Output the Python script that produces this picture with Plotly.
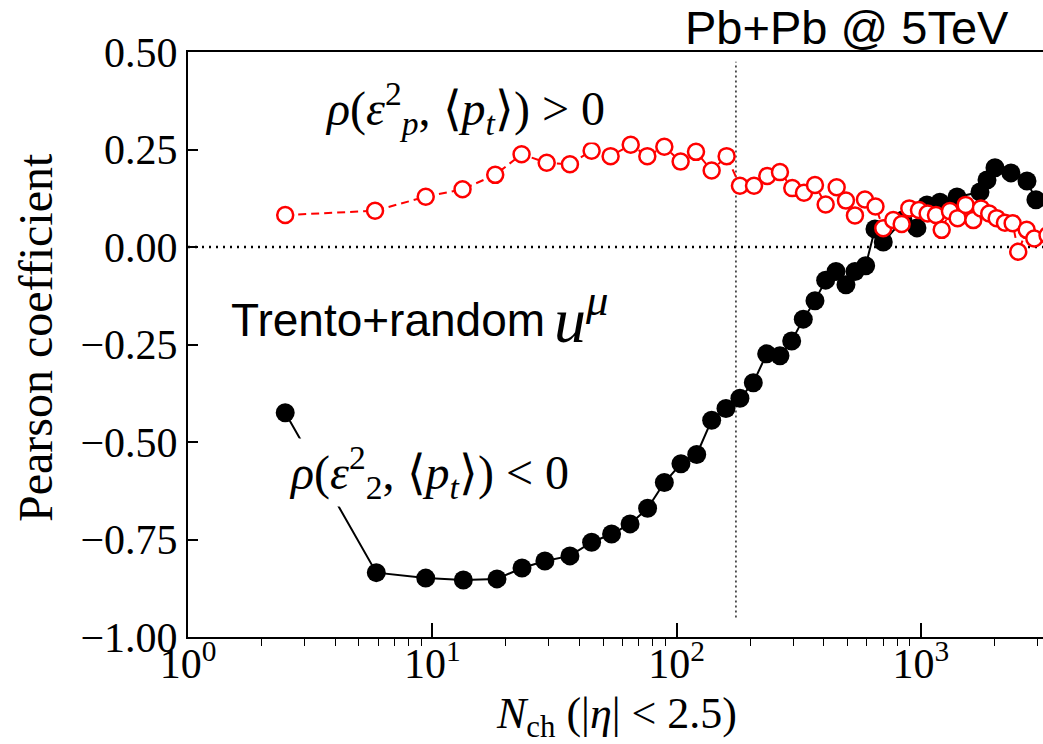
import math
import plotly.graph_objects as go

# ---------------- data ----------------
nch_black = [2.5, 5.9, 9.4, 13.4, 18.4, 23.3, 28.9, 36.6, 44.9, 54.2, 64.5, 76.1, 89.1,
             104.2, 120.9, 139.2, 159.3, 181.7, 206.1, 233.8, 265.0, 295.9, 330.1, 368.6,
             407.7, 449.3, 493.6, 537.3, 594.3, 648.8, 701.6, 844.9, 963.9, 1059, 1197,
             1406, 1746, 1865, 2011, 2338, 2719, 2958]
rho_black = [-0.425, -0.835, -0.849, -0.854, -0.851, -0.823, -0.805, -0.792, -0.757, -0.736,
             -0.710, -0.670, -0.604, -0.556, -0.532, -0.444, -0.414, -0.388, -0.348, -0.274,
             -0.279, -0.241, -0.185, -0.138, -0.085, -0.063, -0.097, -0.063, -0.048, 0.046,
             0.013, 0.069, 0.049, 0.108, 0.115, 0.128, 0.141, 0.172, 0.203, 0.190, 0.169,
             0.121]

nch_red = [2.5, 5.83, 9.40, 13.3, 18.1, 23.2, 29.4, 36.6, 44.9, 53.7, 64.9, 75.9, 89.1,
           103.9, 120.1, 139.2, 160.3, 181.7, 207.5, 235.1, 265.0, 297.6, 332.3, 368.6,
           407.7, 452.2, 493.6, 537.3, 590.4, 652, 701.6, 770.9, 834.6, 896.8, 982.2, 1066,
           1153, 1217, 1315, 1414, 1525, 1639, 1762, 1905, 2043, 2209, 2375, 2504, 2711,
           2913, 3300]
rho_red = [0.082, 0.093, 0.129, 0.148, 0.185, 0.238, 0.216, 0.212, 0.247, 0.233, 0.262,
           0.233, 0.257, 0.219, 0.244, 0.196, 0.233, 0.157, 0.157, 0.182, 0.192, 0.151,
           0.139, 0.159, 0.109, 0.153, 0.119, 0.081, 0.122, 0.104, 0.048, 0.069, 0.059,
           0.099, 0.095, 0.086, 0.082, 0.044, 0.092, 0.074, 0.108, 0.069, 0.099, 0.086,
           0.074, 0.062, 0.061, -0.012, 0.044, 0.022, 0.030]

x_tick_vals = [1, 10, 100, 1000]
x_tick_text = ["10<sup>0</sup>", "10<sup>1</sup>", "10<sup>2</sup>", "10<sup>3</sup>"]
x_minor_vals = [m * d for d in (1, 10, 100, 1000) for m in range(2, 10)]
y_tick_vals = [-1.0, -0.75, -0.5, -0.25, 0.0, 0.25, 0.5]
x_range = [1, 3162]
y_range = [-1.0, 0.5]
vline_x = 175
vline_y = [-0.95, 0.475]

SERIF = "Liberation Serif"
SANS = "Liberation Sans"

fig = go.Figure()

# reference lines
fig.add_trace(go.Scatter(x=x_range, y=[0, 0], mode="lines",
                         line=dict(color="black", width=2.5, dash="2px,5px"),
                         hoverinfo="skip", showlegend=False))
fig.add_trace(go.Scatter(x=[vline_x, vline_x], y=vline_y, mode="lines",
                         line=dict(color="black", width=1.3, dash="2px,3px"),
                         hoverinfo="skip", showlegend=False))

# black series
fig.add_trace(go.Scatter(x=nch_black, y=rho_black, mode="lines+markers",
                         line=dict(color="black", width=2),
                         marker=dict(color="black", size=19, line=dict(width=0)),
                         showlegend=False))
# red series
fig.add_trace(go.Scatter(x=nch_red, y=rho_red, mode="lines+markers",
                         line=dict(color="red", width=2, dash="8px,5px"),
                         marker=dict(color="white", size=16, line=dict(color="red", width=2.5)),
                         showlegend=False))

# invisible trace carrying the minor-tick axis
fig.add_trace(go.Scatter(x=x_range, y=[None, None], xaxis="x2", mode="lines",
                         hoverinfo="skip", showlegend=False))

L, R, T, B = 188, 0, 52, 107
W, H = 1043, 744
pw, ph = W - L - R, H - T - B


def px(xp):
    return (xp - L) / pw


def py(yp):
    return (H - B - yp) / ph


annotations = [
    dict(text="Pb+Pb @ 5TeV", x=px(847), y=py(28), font=dict(family=SANS, size=47, color="black")),
    dict(text="Trento+random", x=px(388), y=py(320), font=dict(family=SANS, size=46, color="black")),
    dict(text="<i>u</i><sup><i>μ</i></sup>", x=px(552), y=py(316), xanchor="left",
         font=dict(family=SERIF, size=64, color="black")),
    dict(text="<i>ρ</i>(<i>ε</i><sup>2</sup><sub><i>p</i></sub>, ⟨<i>p</i><sub><i>t</i></sub>⟩) &gt; 0",
         x=px(465), y=py(108), font=dict(family=SERIF, size=48, color="black"),
         bgcolor="white", borderpad=0),
    dict(text="<i>ρ</i>(<i>ε</i><sup>2</sup><sub>2</sub>, ⟨<i>p</i><sub><i>t</i></sub>⟩) &lt; 0",
         x=px(429), y=py(472), font=dict(family=SERIF, size=48, color="black"),
         bgcolor="white", borderpad=0),
    dict(text="Pearson coefficient", x=px(35), y=py(338), textangle=-90,
         font=dict(family=SERIF, size=48, color="black")),
    dict(text="<i>N</i><sub>ch</sub> (|<i>η</i>| &lt; 2.5)", x=px(616), y=py(716),
         font=dict(family=SERIF, size=44, color="black")),
]
for a in annotations:
    a.setdefault("xref", "paper")
    a.setdefault("yref", "paper")
    a.setdefault("showarrow", False)
    a.setdefault("xanchor", "center")
    a.setdefault("yanchor", "middle")

x_log_range = [math.log10(x_range[0]), 3.5]

fig.update_layout(
    width=W, height=H,
    margin=dict(l=L, r=R, t=T, b=B, autoexpand=False),
    paper_bgcolor="white", plot_bgcolor="white",
    annotations=annotations,
    font=dict(family=SERIF, color="black"),
    xaxis=dict(type="log", range=x_log_range,
               tickvals=x_tick_vals, ticktext=x_tick_text,
               ticks="inside", ticklen=14, tickwidth=1.5, tickcolor="black",
               showline=True, linecolor="black", linewidth=2, mirror=True,
               showgrid=False, zeroline=False,
               tickfont=dict(family=SERIF, size=42, color="black"),
               ticklabelstandoff=-11,
               automargin=False),
    xaxis2=dict(type="log", range=x_log_range, overlaying="x", anchor="y", side="bottom",
                tickmode="array", tickvals=x_minor_vals, showticklabels=False,
                ticks="outside", ticklen=8, tickwidth=1.2, tickcolor="black",
                showline=False, showgrid=False, zeroline=False, automargin=False),
    yaxis=dict(range=y_range, tickvals=y_tick_vals, tickformat=".2f",
               ticks="inside", ticklen=10, tickwidth=1.5, tickcolor="black",
               showline=True, linecolor="black", linewidth=2, mirror=True,
               showgrid=False, zeroline=False,
               tickfont=dict(family=SERIF, size=42, color="black"),
               automargin=False),
)

fig.write_html("out.html")
